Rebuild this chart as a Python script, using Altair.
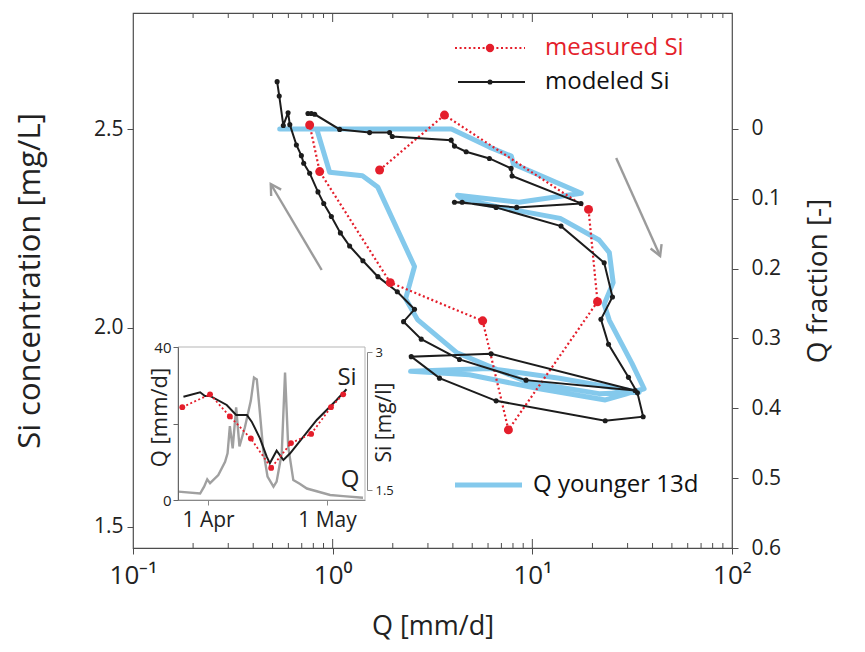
import altair as alt
import pandas as pd

# ---------------- data ----------------
# modeled Si (black line with dots), in time order
mod_q = [0.752, 0.782, 0.813, 1.084, 1.531, 1.928, 1.989, 3.922, 4.074, 4.661,
         6.095, 7.827, 7.918, 17.52, 8.35, 4.074, 4.451, 6.584, 13.92, 22.9,
         25.2, 22.06, 24.07, 30.3, 33.6, 35.9, 23.17, 6.584, 3.428, 2.475,
         6.216, 32.7, 9.3, 4.315, 2.778, 2.265, 2.57, 2.107, 1.685, 1.417,
         1.216, 1.093, 0.985, 0.902, 0.844, 0.767, 0.716, 0.697, 0.658, 0.610,
         0.598, 0.566, 0.540, 0.527]
mod_si = [2.539, 2.539, 2.537, 2.499, 2.491, 2.491, 2.481, 2.472, 2.457, 2.443,
          2.426, 2.401, 2.382, 2.313, 2.303, 2.316, 2.316, 2.303, 2.256, 2.164,
          2.078, 2.022, 1.959, 1.876, 1.837, 1.777, 1.767, 1.817, 1.874, 1.928,
          1.935, 1.843, 1.869, 1.921, 1.972, 2.016, 2.047, 2.091, 2.129, 2.169,
          2.206, 2.239, 2.280, 2.313, 2.342, 2.389, 2.414, 2.433, 2.460, 2.511,
          2.541, 2.509, 2.583, 2.619]

# measured Si (red dotted line with large dots)
meas_q = [1.718, 3.631, 19.12, 21.2, 7.59, 5.64, 1.943, 0.861, 0.767]
meas_si = [2.397, 2.535, 2.298, 2.066, 1.744, 2.018, 2.114, 2.393, 2.510]

# Q younger 13d (blue, right axis "Q fraction")
young_q = [0.543, 3.936, 6.095, 7.85, 8.03, 17.6, 8.58, 4.22, 4.42, 6.82,
           13.8, 21.6, 24.3, 25.4, 22.9, 24.3, 31.6, 36.3, 23.2, 10.84,
           4.84, 2.455, 6.10, 13.65, 34.3, 21.6, 9.33, 4.17, 2.66, 2.32,
           2.57, 1.68, 1.41, 0.966, 0.832, 0.543]
young_frac = [0.0, 0.0, 0.026, 0.039, 0.050, 0.092, 0.105, 0.095, 0.100, 0.112,
              0.128, 0.159, 0.177, 0.220, 0.251, 0.274, 0.336, 0.372, 0.388, 0.372,
              0.352, 0.347, 0.343, 0.357, 0.377, 0.379, 0.362, 0.320, 0.273, 0.243,
              0.197, 0.083, 0.067, 0.062, 0.0, 0.0]

# inset: discharge time series
inset_q_time = ["2008-03-24T12:00", "2008-03-30T00:00", "2008-03-31T00:00", "2008-03-31T19:00",
                "2008-04-01T12:00", "2008-04-03T14:00", "2008-04-05T07:00", "2008-04-05T22:00",
                "2008-04-06T12:00", "2008-04-07T05:00", "2008-04-08T02:00", "2008-04-08T22:00",
                "2008-04-10T07:00", "2008-04-11T19:00", "2008-04-12T14:00", "2008-04-13T07:00",
                "2008-04-14T02:00", "2008-04-14T22:00", "2008-04-16T00:00", "2008-04-17T12:00",
                "2008-04-18T07:00", "2008-04-19T14:00", "2008-04-20T10:00", "2008-04-21T05:00",
                "2008-04-22T12:00", "2008-04-24T05:00", "2008-04-25T22:00", "2008-05-01T19:00",
                "2008-05-05T02:00", "2008-05-10T02:00"]
inset_q_val = [2.2, 1.7, 3.5, 5.4, 4.4, 6.5, 10.0, 12.2, 19.3, 13.5,
               24.2, 14.0, 19.0, 26.0, 32.0, 31.5, 22.7, 13.0, 6.1, 3.5,
               4.8, 12.2, 33.3, 14.0, 5.2, 4.2, 3.0, 1.3, 1.0, 0.6]
# inset: modeled Si
inset_mod_time = ["2008-03-25T19:00", "2008-03-30T00:00", "2008-03-31T05:00", "2008-04-01T12:00",
                  "2008-04-05T17:00", "2008-04-08T02:00", "2008-04-10T19:00", "2008-04-12T00:00",
                  "2008-04-14T02:00", "2008-04-15T19:00", "2008-04-16T14:00", "2008-04-18T07:00",
                  "2008-04-20T00:00", "2008-04-21T17:00", "2008-04-28T10:00", "2008-05-03T10:00",
                  "2008-05-05T22:00"]
inset_mod_si = [2.514, 2.562, 2.522, 2.522, 2.424, 2.315, 2.315, 2.243, 2.062, 1.862,
                1.79, 1.927, 1.826, 1.899, 2.261, 2.478, 2.595]
# inset: measured Si
inset_meas_time = ["2008-03-25T12:00", "2008-04-01T12:00", "2008-04-06T12:00", "2008-04-11T19:00",
                   "2008-04-16T22:00", "2008-04-21T22:00", "2008-04-27T00:00", "2008-05-02T00:00",
                   "2008-05-05T02:00"]
inset_meas_si = [2.40, 2.54, 2.30, 2.06, 1.74, 2.01, 2.11, 2.40, 2.54]

# gray arrows (Q, Si) drawn as polylines
arrow_q = [0.881, 0.4898, 0.492, 0.4898, 0.552, 26.3, 43.65, 39.1, 43.65, 44.4]
arrow_si = [2.1457, 2.3618, 2.3317, 2.3618, 2.3477, 2.427, 2.181, 2.1997, 2.181, 2.211]
arrow_grp = ["ls", "ls", "lh", "lh", "lh", "rs", "rs", "rh", "rh", "rh"]

# axis tick values
x_major = [0.1, 1, 10, 100]
x_minor = [0.2, 0.3, 0.4, 0.5, 0.6, 0.7, 0.8, 0.9,
           2, 3, 4, 5, 6, 7, 8, 9, 20, 30, 40, 50, 60, 70, 80, 90]
x_inner_major = [1, 10]
si_ticks = [1.5, 2.0, 2.5]
frac_ticks = [0, 0.1, 0.2, 0.3, 0.4, 0.5, 0.6]

# ---------------- styling ----------------
W, H = 599, 535
TOP = 13            # page y of the plot top (used only to convert layout positions)
FONT = "Open Sans"
RED = "#e41e2b"
BLUE = "#84c9ec"
BLACK = "#1c1c1c"
GRAY = "#9b9b9b"
AX = "#4d4d4d"


def xscale():
    return alt.Scale(type="log", domain=[0.1, 100], nice=False)


def yscale():
    return alt.Scale(domain=[1.4472, 2.7915], nice=False, zero=False)


fscale = alt.Scale(domain=[-0.166, 0.6], nice=False, zero=False, reverse=True)

IQ0, IQ40 = 500 - TOP, 347 - TOP
ISI15, ISI3 = 490 - TOP, 352 - TOP


def ix_scale():
    return alt.Scale(domain=[alt.DateTime(year=2008, month=3, date=24, hours=10),
                             alt.DateTime(year=2008, month=5, date=10, hours=14)],
                     range=[45, 232])


def isi_scale():
    return alt.Scale(domain=[1.5, 3.0], range=[ISI15, ISI3], nice=False, zero=False)


iq_scale = alt.Scale(domain=[0, 40], range=[IQ0, IQ40], nice=False, zero=False)

mod_df = pd.DataFrame({"i": range(len(mod_q)), "Q": mod_q, "Si": mod_si})
meas_df = pd.DataFrame({"i": range(len(meas_q)), "Q": meas_q, "Si": meas_si})
young_df = pd.DataFrame({"i": range(len(young_q)), "Q": young_q, "F": young_frac})
arrow_df = pd.DataFrame({"i": range(len(arrow_q)), "Q": arrow_q, "Si": arrow_si, "g": arrow_grp})
minor_df = pd.DataFrame({"v": x_minor})
imaj_df = pd.DataFrame({"v": x_inner_major})
iq_df = pd.DataFrame({"t": inset_q_time, "Q": inset_q_val})
imod_df = pd.DataFrame({"i": range(len(inset_mod_time)), "t": inset_mod_time, "Si": inset_mod_si})
imeas_df = pd.DataFrame({"i": range(len(inset_meas_time)), "t": inset_meas_time, "Si": inset_meas_si})
one = pd.DataFrame({"a": [0]})

x_axis = alt.Axis(
    values=x_major, orient="bottom",
    labelExpr="datum.value < 0.5 ? '10\u207b\u00b9' : datum.value < 5 ? '10\u2070' : datum.value < 50 ? '10\u00b9' : '10\u00b2'",
    labelFontSize=26, labelColor="#222", labelFlush=False, labelOverlap=False,
    tickSize=6, tickColor=AX, domain=False, grid=False, labelPadding=8,
    title="Q [mm/d]", titleFontSize=27, titlePadding=25, titleColor="#222", zindex=1)
y_axis = alt.Axis(
    values=si_ticks, orient="left", format=".1f", labelFontSize=21, labelColor="#222",
    tickSize=6, tickColor=AX, domain=False, grid=False, labelPadding=4,
    title="Si concentration [mg/L]", titleFontSize=31, titlePadding=47, titleColor="#222", zindex=1)
f_axis = alt.Axis(
    values=frac_ticks, orient="right", labelFontSize=21, labelColor="#222",
    labelExpr="datum.value == 0 ? '0' : format(datum.value, '.1f')",
    tickSize=6, tickColor=AX, domain=False, grid=False, labelPadding=13,
    title="Q fraction [-]", titleFontSize=28, titleAngle=270, titleBaseline="top",
    titlePadding=24, titleColor="#222", zindex=1)


def X(ax=None):
    return alt.X("Q:Q", scale=xscale(), axis=ax)


def Y(ax=None):
    return alt.Y("Si:Q", scale=yscale(), axis=ax)


mod_line = alt.Chart(mod_df).mark_line(color=BLACK, strokeWidth=2).encode(
    x=X(x_axis), y=Y(y_axis), order="i:Q")
mod_pts = alt.Chart(mod_df).mark_circle(color=BLACK, size=26, opacity=1).encode(x=X(), y=Y())
meas_line = alt.Chart(meas_df).mark_line(color=RED, strokeWidth=2.2, strokeDash=[2, 2.6]).encode(
    x=X(), y=Y(), order="i:Q")
meas_pts = alt.Chart(meas_df).mark_circle(color=RED, size=80, opacity=1).encode(x=X(), y=Y())
arrows = alt.Chart(arrow_df).mark_line(color=GRAY, strokeWidth=2.4).encode(
    x=X(), y=Y(), detail="g:N", order="i:Q")
tick_b = alt.Chart(minor_df).mark_rule(color=AX, strokeWidth=1).encode(
    x=alt.X("v:Q", scale=xscale(), axis=None), y=alt.value(H), y2=alt.value(H - 5))
tick_t = alt.Chart(minor_df).mark_rule(color=AX, strokeWidth=1).encode(
    x=alt.X("v:Q", scale=xscale(), axis=None), y=alt.value(0), y2=alt.value(5))
tick_bm = alt.Chart(imaj_df).mark_rule(color=AX, strokeWidth=1).encode(
    x=alt.X("v:Q", scale=xscale(), axis=None), y=alt.value(H), y2=alt.value(H - 9))
tick_tm = alt.Chart(imaj_df).mark_rule(color=AX, strokeWidth=1).encode(
    x=alt.X("v:Q", scale=xscale(), axis=None), y=alt.value(0), y2=alt.value(9))

young = alt.Chart(young_df).mark_line(color=BLUE, strokeWidth=5, strokeJoin="round", strokeCap="round").encode(
    x=alt.X("Q:Q", scale=xscale(), axis=None),
    y=alt.Y("F:Q", scale=fscale, axis=f_axis),
    order="i:Q")

# ---------------- inset ----------------
inset_frame = alt.Chart(one).mark_rect(fill="white", stroke="#b5b5b5", strokeWidth=1).encode(
    x=alt.value(45), x2=alt.value(232), y=alt.value(IQ40), y2=alt.value(IQ0))

ix_axis = alt.Axis(
    orient="bottom", offset=-(H - IQ0), values=[alt.DateTime(year=2008, month=4, date=1),
                                              alt.DateTime(year=2008, month=5, date=1)],
    format="%-d %b", labelFontSize=21, labelColor="#222", tickSize=5, tickColor="#888",
    domainColor="#888", grid=False, title=None, labelPadding=4, zindex=1, labelFlush=False)
iq_axis = alt.Axis(
    orient="left", offset=-45, values=[0, 20, 40],
    labelExpr="datum.value == 20 ? '' : datum.label", labelFontSize=15, labelColor="#222",
    tickSize=5, tickColor="#666", domainColor="#666", grid=False, labelPadding=2,
    title="Q [mm/d]", titleFontSize=22, titleColor="#222", titleAngle=270,
    titleBaseline="bottom", titleAlign="center", titleX=-7, titleY=417 - TOP, zindex=1)
isi_axis = alt.Axis(
    orient="right", offset=-(W - 234), values=[1.5, 3.0],
    labelExpr="datum.value == 3 ? '3' : '1.5'", labelFontSize=13, labelColor="#222",
    tickSize=5, tickColor="#888", domainColor="#888", grid=False, labelPadding=3,
    title="Si [mg/l]", titleFontSize=21, titleAngle=270, titleBaseline="top", titleAlign="center",
    titleX=6, titleY=422 - TOP, titleColor="#222", zindex=1)

iq_line = alt.Chart(iq_df).mark_line(color="#a0a0a0", strokeWidth=2.4).encode(
    x=alt.X("t:T", scale=ix_scale(), axis=ix_axis),
    y=alt.Y("Q:Q", scale=iq_scale, axis=iq_axis))
imod_line = alt.Chart(imod_df).mark_line(color=BLACK, strokeWidth=2).encode(
    x=alt.X("t:T", scale=ix_scale(), axis=None),
    y=alt.Y("Si:Q", scale=isi_scale(), axis=isi_axis), order="i:Q")
imeas_line = alt.Chart(imeas_df).mark_line(color=RED, strokeWidth=1.8, strokeDash=[2, 2.4]).encode(
    x=alt.X("t:T", scale=ix_scale(), axis=None),
    y=alt.Y("Si:Q", scale=isi_scale(), axis=None), order="i:Q")
imeas_pts = alt.Chart(imeas_df).mark_circle(color=RED, size=34, opacity=1).encode(
    x=alt.X("t:T", scale=ix_scale(), axis=None),
    y=alt.Y("Si:Q", scale=isi_scale(), axis=None))
inset_si_txt = alt.Chart(one).mark_text(text="Si", font=FONT, fontSize=24, color="#222").encode(
    x=alt.value(347 - 133), y=alt.value(378 - TOP))
inset_q_txt = alt.Chart(one).mark_text(text="Q", font=FONT, fontSize=24, color="#222").encode(
    x=alt.value(350 - 133), y=alt.value(480 - TOP))

# ---------------- legend ----------------
LR, LB, LQ = 48 - TOP, 82 - TOP, 485 - TOP
leg_red_line = alt.Chart(one).mark_rule(color=RED, strokeWidth=2.2, strokeDash=[2, 2.6]).encode(
    x=alt.value(322), x2=alt.value(392), y=alt.value(LR))
leg_red_pt = alt.Chart(one).mark_circle(color=RED, size=70, opacity=1).encode(
    x=alt.value(357), y=alt.value(LR))
leg_red_txt = alt.Chart(one).mark_text(text="measured Si", font=FONT, fontSize=24, color=RED,
                                       align="left", baseline="middle").encode(
    x=alt.value(412), y=alt.value(LR))
leg_blk_line = alt.Chart(one).mark_rule(color=BLACK, strokeWidth=2).encode(
    x=alt.value(325), x2=alt.value(392), y=alt.value(LB))
leg_blk_pt = alt.Chart(one).mark_circle(color=BLACK, size=26, opacity=1).encode(
    x=alt.value(357), y=alt.value(LB))
leg_blk_txt = alt.Chart(one).mark_text(text="modeled Si", font=FONT, fontSize=24, color="#111",
                                       align="left", baseline="middle").encode(
    x=alt.value(412), y=alt.value(LB))
leg_blue_line = alt.Chart(one).mark_rule(color=BLUE, strokeWidth=5).encode(
    x=alt.value(322), x2=alt.value(389), y=alt.value(LQ))
leg_blue_txt = alt.Chart(one).mark_text(text="Q younger 13d", font=FONT, fontSize=24, color="#111",
                                        align="left", baseline="middle").encode(
    x=alt.value(400), y=alt.value(LQ))

chart = alt.layer(
    young, arrows, tick_b, tick_t, tick_bm, tick_tm, meas_line, mod_line, mod_pts, meas_pts,
    inset_frame, iq_line, imod_line, imeas_line, imeas_pts, inset_si_txt, inset_q_txt,
    leg_red_line, leg_red_pt, leg_red_txt, leg_blk_line, leg_blk_pt, leg_blk_txt,
    leg_blue_line, leg_blue_txt,
).resolve_scale(x="independent", y="independent").properties(
    width=W, height=H, background="white",
    padding={"left": 125, "top": TOP - 8, "right": 120, "bottom": 103},
    autosize=alt.AutoSizeParams(type="none"),
).configure_view(stroke=AX, strokeWidth=1.2).configure_axis(
    labelFont=FONT, titleFont=FONT, titleFontWeight="normal"
)

chart.save("out.html", embed_options={"renderer": "svg", "actions": False})
